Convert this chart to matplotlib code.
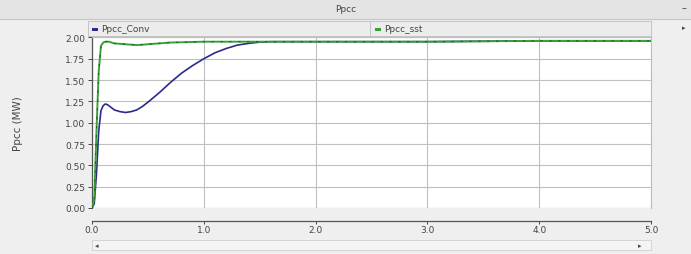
import matplotlib
matplotlib.use('Agg')
import matplotlib.pyplot as plt
from matplotlib.patches import Rectangle

# ── Data ──────────────────────────────────────────────────────
t_conv = [0.0, 0.02, 0.04, 0.06, 0.08, 0.10, 0.12, 0.14, 0.17, 0.20, 0.25,
          0.30, 0.35, 0.40, 0.45, 0.50, 0.60, 0.70, 0.80, 0.90, 1.00, 1.10,
          1.20, 1.30, 1.40, 1.50, 1.60, 2.00, 3.00, 4.00, 5.00]
p_conv = [0.00, 0.05, 0.40, 0.90, 1.14, 1.20, 1.22, 1.21, 1.18, 1.15, 1.13,
          1.12, 1.13, 1.15, 1.19, 1.24, 1.35, 1.47, 1.58, 1.67, 1.75, 1.82,
          1.87, 1.91, 1.93, 1.945, 1.95, 1.95, 1.95, 1.96, 1.96]

t_sst = [0.0, 0.02, 0.04, 0.06, 0.08, 0.10, 0.12, 0.15, 0.20, 0.30, 0.40,
         0.50, 0.70, 1.00, 2.00, 3.00, 4.00, 5.00]
p_sst = [0.00, 0.10, 0.90, 1.60, 1.90, 1.94, 1.95, 1.95, 1.93, 1.92, 1.91,
         1.92, 1.94, 1.95, 1.95, 1.95, 1.96, 1.96]

y_ticks = [0.00, 0.25, 0.50, 0.75, 1.00, 1.25, 1.50, 1.75, 2.00]
x_ticks = [0.0, 1.0, 2.0, 3.0, 4.0, 5.0]

BG = '#efefef'
CONV_COLOR = '#2b2b8c'
SST_COLOR = '#3aa03a'
TEXT = '#444444'

W, H = 691, 255
fig = plt.figure(figsize=(W / 100, H / 100), dpi=100, facecolor=BG)

def px(x, y, w, h):
    # pixel box (top-left origin) -> figure fraction
    return [x / W, 1 - (y + h) / H, w / W, h / H]

# ── Title bar ─────────────────────────────────────────────────
fig.patches.append(Rectangle((0, 1 - 20 / H), 1, 20 / H, transform=fig.transFigure,
                             facecolor='#e4e4e4', edgecolor='none'))
fig.add_artist(plt.Line2D([0, 1], [1 - 20 / H] * 2, transform=fig.transFigure,
                          color='#c4c4c4', lw=0.8))
fig.text(0.5, 1 - 10 / H, 'Ppcc', ha='center', va='center', fontsize=6.5, color=TEXT)
fig.text(684 / W, 1 - 8 / H, '–', ha='center', va='center', fontsize=7, color=TEXT)
fig.text(684 / W, 1 - 28 / H, '▸', ha='center', va='center', fontsize=5, color=TEXT)

# ── Legend strip ──────────────────────────────────────────────
fig.patches.append(Rectangle((88 / W, 1 - 37 / H), (651 - 88) / W, 15 / H,
                             transform=fig.transFigure, facecolor='#ececec',
                             edgecolor='#c4c4c4', lw=0.7))
fig.add_artist(plt.Line2D([370 / W] * 2, [1 - 37 / H, 1 - 22 / H],
                          transform=fig.transFigure, color='#c4c4c4', lw=0.7))
fig.patches.append(Rectangle((92 / W, 1 - 31.5 / H), 6 / W, 3 / H,
                             transform=fig.transFigure, facecolor=CONV_COLOR))
fig.text(101 / W, 1 - 30 / H, 'Ppcc_Conv', ha='left', va='center', fontsize=6.5, color=TEXT)
fig.patches.append(Rectangle((375 / W, 1 - 31.5 / H), 6 / W, 3 / H,
                             transform=fig.transFigure, facecolor=SST_COLOR))
fig.text(384 / W, 1 - 30 / H, 'Ppcc_sst', ha='left', va='center', fontsize=6.5, color=TEXT)

# ── Plot ──────────────────────────────────────────────────────
ax = fig.add_axes(px(92, 38, 559, 171))
ax.set_facecolor('white')
ax.plot(t_conv, p_conv, color=CONV_COLOR, lw=1.2, zorder=3)
ax.plot(t_sst, p_sst, color=SST_COLOR, lw=1.4, zorder=4)
ax.plot(t_sst, p_sst, color='#1f5e1f', lw=0.8, ls=(0, (2, 6)), zorder=5)

ax.set_xlim(0, 5)
ax.set_ylim(0, 2.005)
ax.set_xticks(x_ticks)
ax.set_xticklabels([f'{v:.1f}' for v in x_ticks])
ax.set_yticks(y_ticks)
ax.set_yticklabels([f'{v:.2f}' for v in y_ticks])
ax.grid(True, color='#c0c0c0', lw=0.8)
ax.set_axisbelow(True)

for s in ['top', 'right']:
    ax.spines[s].set_color('#bdbdbd')
    ax.spines[s].set_linewidth(0.8)
ax.spines['left'].set_color('#555555')
ax.spines['left'].set_linewidth(0.9)
ax.spines['bottom'].set_position(('outward', 9))
ax.spines['bottom'].set_color('#555555')
ax.spines['bottom'].set_linewidth(0.9)
ax.axhline(0, color='#bdbdbd', lw=0.8, zorder=1)

ax.tick_params(axis='both', labelsize=6.5, colors=TEXT, length=3, width=0.7, pad=2)
ax.tick_params(axis='x', length=2, pad=1.5)
ax.set_ylabel('Ppcc (MW)', fontsize=7.5, color=TEXT, labelpad=30)

# ── Scrollbar ─────────────────────────────────────────────────
fig.patches.append(Rectangle((92 / W, 1 - 251 / H), (651 - 92) / W, 10 / H,
                             transform=fig.transFigure, facecolor='#f4f4f4',
                             edgecolor='#d0d0d0', lw=0.6))
fig.text(97 / W, 1 - 246 / H, '◂', ha='center', va='center', fontsize=5, color=TEXT)
fig.text(640 / W, 1 - 246 / H, '▸', ha='center', va='center', fontsize=5, color=TEXT)

fig.savefig('out.png', dpi=100, facecolor=BG)
